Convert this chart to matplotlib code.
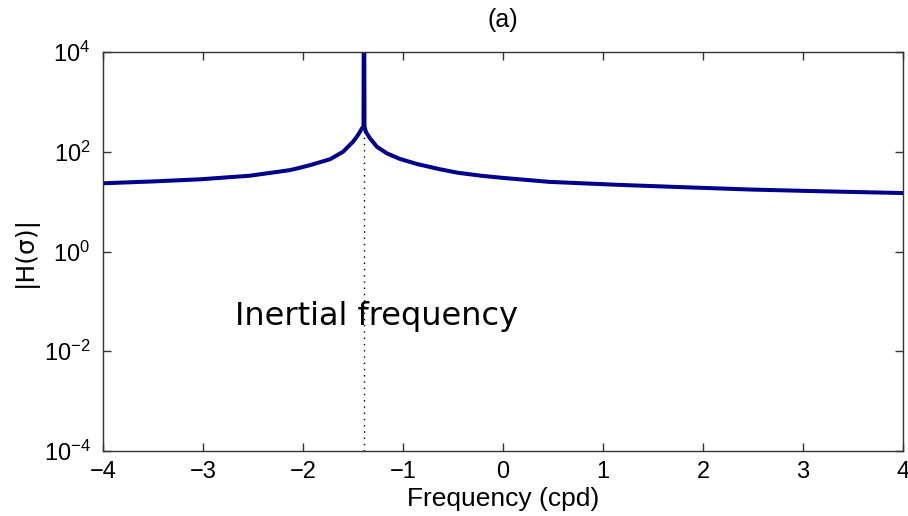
import matplotlib
matplotlib.use("Agg")
import matplotlib.pyplot as plt
from matplotlib.ticker import FixedLocator, NullLocator

# Data
freq = [-4.0, -3.5, -3.03, -2.53, -2.13, -2.03, -1.93, -1.73, -1.60, -1.50,
        -1.45, -1.41, -1.395, -1.39, -1.385, -1.37, -1.33, -1.26, -1.16, -1.03,
        -0.86, -0.63, -0.45, -0.21, 0.0, 0.46, 1.17, 1.81, 2.49, 3.17, 4.0]
H_mag = [23.4, 25.5, 28.1, 33.2, 43.0, 48.0, 54.0, 71.0, 100.0, 159.0,
         217.0, 296.0, 320.0, 1e6, 320.0, 250.0, 187.0, 126.0, 93.0, 72.0,
         57.0, 44.7, 38.0, 33.0, 30.0, 25.0, 21.7, 19.5, 17.5, 16.2, 14.9]
inertial_freq = -1.39
xticks = [-4, -3, -2, -1, 0, 1, 2, 3, 4]
yticks = [1e-4, 1e-2, 1e0, 1e2, 1e4]
ytick_labels = [r"$10^{-4}$", r"$10^{-2}$", r"$10^{0}$", r"$10^{2}$", r"$10^{4}$"]

plt.rcParams['font.family'] = ['Liberation Sans', 'DejaVu Sans']
plt.rcParams['mathtext.fontset'] = 'custom'
plt.rcParams['mathtext.rm'] = 'Liberation Sans'
plt.rcParams['mathtext.it'] = 'Liberation Sans'

fig = plt.figure(figsize=(9.08, 5.16), dpi=100)
ax = fig.add_axes([0.1134, 0.126, 0.8811, 0.773])

ax.axvline(inertial_freq, color='black', linestyle=(0, (1, 3.5)), linewidth=1.0, zorder=1)
ax.plot(freq, H_mag, color='#00008C', linewidth=2.9, zorder=2,
        solid_joinstyle='round')

ax.set_yscale('log')
ax.set_xlim(-4, 4)
ax.set_ylim(1e-4, 1e4)
ax.xaxis.set_major_locator(FixedLocator(xticks))
ax.yaxis.set_major_locator(FixedLocator(yticks))
ax.yaxis.set_minor_locator(NullLocator())
ax.set_yticklabels(ytick_labels)
ax.set_xticklabels([str(t).replace('-', '\u2212') for t in xticks])

ax.tick_params(direction='in', top=True, right=True, length=6, width=1,
               labelsize=17, colors='#333333', labelcolor='black')
ax.tick_params(axis='x', pad=7)
ax.tick_params(axis='y', pad=9)
for s in ax.spines.values():
    s.set_color('#333333')
    s.set_linewidth(1.0)

ax.set_xlabel('Frequency (cpd)', fontsize=19, labelpad=3)
ax.set_ylabel('|H(\u03c3)|', fontsize=18, labelpad=4, family=['DejaVu Sans'])
ax.set_title('(a)', fontsize=18, pad=18)

ax.text(-2.68, 0.033, 'Inertial frequency', fontsize=23, family=['DejaVu Sans'],
        va='baseline', ha='left', color='black')

fig.savefig('out.png', dpi=100)
